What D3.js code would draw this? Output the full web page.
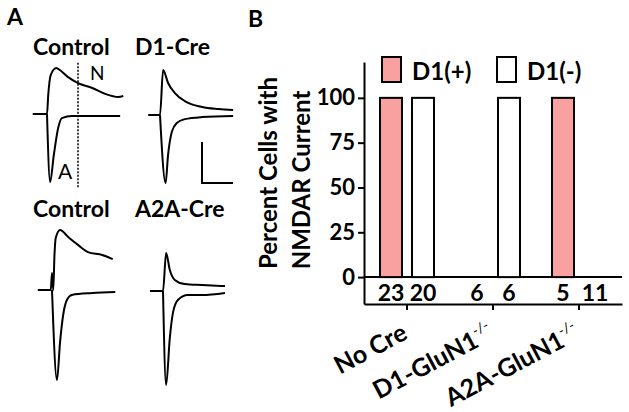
<!DOCTYPE html>
<html>
<head>
<meta charset="utf-8">
<script src="https://cdn.jsdelivr.net/npm/d3@7"></script>
<style>
  body { margin: 0; background: #fff; }
  text { font-family: Lato, "Open Sans", sans-serif; fill: #000; }
</style>
</head>
<body>
<script>
// ---- Panel B data ----
var categories = ["No Cre", "D1-GluN1", "A2A-GluN1"];
var labelSuper = ["", "-/-", "-/-"];
var groups = ["D1(+)", "D1(-)"];
var percentD1pos = [100, 0, 100];
var percentD1neg = [100, 100, 0];
var cellsD1pos = [23, 6, 5];
var cellsD1neg = [20, 6, 11];
var yTicks = [0, 25, 50, 75, 100];

// ---- Panel A data: [time ms from stimulus, current pA] ----
var scaleBarMs = 50, scaleBarPa = 200;
var nmdaTimeMs = 50;

var ctrlTopOut = [[-23,0],[0,0],[2,93],[6,190],[15,224],[18,220],[34,180],[50,151],[73,127],[94,98],[115,83],[123,88]];
var ctrlTopIn = [[0,0],[5,-332],[11,-200],[18,-68],[24,-20],[40,-10],[118,-10]];
var d1CreOut = [[-19,0],[0,0],[5,220],[13,156],[24,107],[40,68],[68,39],[94,29],[118,24]];
var d1CreIn = [[0,0],[9,-332],[13,-195],[19,-83],[27,-39],[40,-20],[68,-10],[118,-5]];
var ctrlBotOut = [[-23,0],[-2,0],[0,83],[2,0],[4,171],[6,254],[13,293],[26,259],[42,220],[58,185],[81,171],[98,151]];
var ctrlBotIn = [[0,0],[8,-439],[13,-254],[18,-122],[24,-49],[32,-24],[65,-15],[102,-10]];
var a2aCreOut = [[-21,0],[0,0],[5,185],[11,102],[19,54],[35,34],[63,29],[100,24]];
var a2aCreIn = [[0,0],[5,-459],[11,-229],[16,-107],[24,-44],[40,-20],[63,-20],[100,-10]];

var width = 629,
  height = 412;

var svg = d3.select("body")
  .append("svg")
  .attr("width", width)
  .attr("height", height);

// Panel letters
svg.append("text").attr("x", 7).attr("y", 25).style("font-size", "23px").style("font-weight", "bold").text("A");
svg.append("text").attr("x", 248).attr("y", 27).style("font-size", "23px").style("font-weight", "bold").text("B");

// ================= Panel A: traces =================
var tScale = d3.scaleLinear().domain([0, scaleBarMs]).range([0, 31]);
var iScale = d3.scaleLinear().domain([0, scaleBarPa]).range([0, -41]);

var trace = d3.line()
  .x(function(d) { return tScale(d[0]); })
  .y(function(d) { return iScale(d[1]); })
  .curve(d3.curveMonotoneX);

var panels = [
  { title: "Control", tx: 33, ty: 55, ox: 47, oy: 114, out: ctrlTopOut, inw: ctrlTopIn },
  { title: "D1-Cre", tx: 135, ty: 55, ox: 160, oy: 115, out: d1CreOut, inw: d1CreIn },
  { title: "Control", tx: 33, ty: 217, ox: 52, oy: 290, out: ctrlBotOut, inw: ctrlBotIn },
  { title: "A2A-Cre", tx: 135, ty: 217, ox: 163, oy: 291, out: a2aCreOut, inw: a2aCreIn }
];

panels.forEach(function(p) {
  svg.append("text")
    .attr("x", p.tx)
    .attr("y", p.ty)
    .style("font-size", "23px")
    .style("font-weight", "bold")
    .text(p.title);

  var g = svg.append("g").attr("transform", "translate(" + p.ox + "," + p.oy + ")");
  [p.out, p.inw].forEach(function(d) {
    g.append("path")
      .datum(d)
      .attr("d", trace)
      .attr("fill", "none")
      .attr("stroke", "#000")
      .attr("stroke-width", 2)
      .attr("stroke-linejoin", "round");
  });
});

// dotted line where NMDA current is read (first control panel)
var g0 = svg.append("g").attr("transform", "translate(47,114)");
g0.append("line")
  .attr("x1", tScale(nmdaTimeMs)).attr("x2", tScale(nmdaTimeMs))
  .attr("y1", iScale(250)).attr("y2", iScale(-360))
  .attr("stroke", "#000")
  .attr("stroke-width", 1.5)
  .attr("stroke-dasharray", "2,1.5");
svg.append("text").attr("x", 90).attr("y", 80).style("font-size", "19px").text("N");
svg.append("text").attr("x", 58).attr("y", 179).style("font-size", "21px").text("A");

// scale bar
var sb = svg.append("g").attr("transform", "translate(202,183)");
sb.append("path")
  .attr("d", "M0," + iScale(scaleBarPa) + "V0H" + tScale(scaleBarMs))
  .attr("fill", "none")
  .attr("stroke", "#000")
  .attr("stroke-width", 2);

// ================= Panel B: bar chart =================
var x = d3.scaleBand().domain(categories).range([364, 622]);
var xSub = d3.scaleBand().domain(groups).range([0, x.bandwidth()])
  .paddingInner(0.3125).paddingOuter(0.5);
var y = d3.scaleLinear().domain([-15, 120]).range([304, 62]);
var color = d3.scaleOrdinal().domain(groups).range(["#f9a0a0", "#ffffff"]);

// Flatten data into bars
var bars = [];
categories.forEach(function(c, i) {
  bars.push({ cat: c, group: groups[0], value: percentD1pos[i], n: cellsD1pos[i] });
  bars.push({ cat: c, group: groups[1], value: percentD1neg[i], n: cellsD1neg[i] });
});

// Y axis
var yAxis = svg.append("g")
  .attr("transform", "translate(364,0)")
  .call(d3.axisLeft(y).tickValues(yTicks).tickSize(6).tickSizeOuter(0).tickPadding(3));
yAxis.selectAll("path, line").attr("stroke", "#000").attr("stroke-width", 2);
yAxis.selectAll("text")
  .style("font-size", "22px")
  .style("font-weight", "bold")
  .style("font-family", "Lato, sans-serif");

// Bottom axis
var xAxis = svg.append("g")
  .attr("transform", "translate(0,304)")
  .call(d3.axisBottom(x).tickSize(6).tickSizeOuter(0).tickFormat(""));
xAxis.selectAll("path, line").attr("stroke", "#000").attr("stroke-width", 2);

// zero line
svg.append("line")
  .attr("x1", 364).attr("x2", 622)
  .attr("y1", y(0)).attr("y2", y(0))
  .attr("stroke", "#000")
  .attr("stroke-width", 2);

// bars
svg.selectAll(".bar")
  .data(bars.filter(function(d) { return d.value > 0; }))
  .enter()
  .append("rect")
  .attr("class", "bar")
  .attr("x", function(d) { return x(d.cat) + xSub(d.group); })
  .attr("y", function(d) { return y(d.value); })
  .attr("width", xSub.bandwidth())
  .attr("height", function(d) { return y(0) - y(d.value); })
  .attr("fill", function(d) { return color(d.group); })
  .attr("stroke", "#000")
  .attr("stroke-width", 2);

// cell counts
svg.selectAll(".count")
  .data(bars)
  .enter()
  .append("text")
  .attr("class", "count")
  .attr("x", function(d) { return x(d.cat) + xSub(d.group) + xSub.bandwidth() / 2; })
  .attr("y", y(0) + 24)
  .attr("text-anchor", "middle")
  .style("font-size", "23px")
  .style("font-weight", "bold")
  .text(function(d) { return d.n; });

// category labels (rotated)
categories.forEach(function(c, i) {
  var t = svg.append("text")
    .attr("text-anchor", "end")
    .attr("transform", "translate(" + (x(c) + x.bandwidth() / 2 + 2) + ",338) rotate(-28)")
    .style("font-size", "25px")
    .style("font-weight", "bold")
    .text(c);
  if (labelSuper[i]) {
    t.append("tspan")
      .attr("dy", -11)
      .style("font-size", "14px")
      .style("font-weight", "normal")
      .text(labelSuper[i]);
  }
});

// y title
svg.append("text")
  .attr("transform", "translate(277,173) rotate(-90)")
  .attr("text-anchor", "middle")
  .style("font-size", "24px")
  .style("font-weight", "bold")
  .text("Percent Cells with");
svg.append("text")
  .attr("transform", "translate(310,180) rotate(-90)")
  .attr("text-anchor", "middle")
  .style("font-size", "24px")
  .style("font-weight", "bold")
  .text("NMDAR Current");

// legend
var legend = svg.selectAll(".legend")
  .data(groups)
  .enter()
  .append("g")
  .attr("class", "legend")
  .attr("transform", function(d, i) { return "translate(" + (382 + i * 115) + ",57)"; });
legend.append("rect")
  .attr("width", 19)
  .attr("height", 25)
  .attr("fill", function(d) { return color(d); })
  .attr("stroke", "#000")
  .attr("stroke-width", 2);
legend.append("text")
  .attr("x", 30)
  .attr("y", 23)
  .style("font-size", "24px")
  .style("font-weight", "bold")
  .text(function(d) { return d; });
</script>
</body>
</html>
